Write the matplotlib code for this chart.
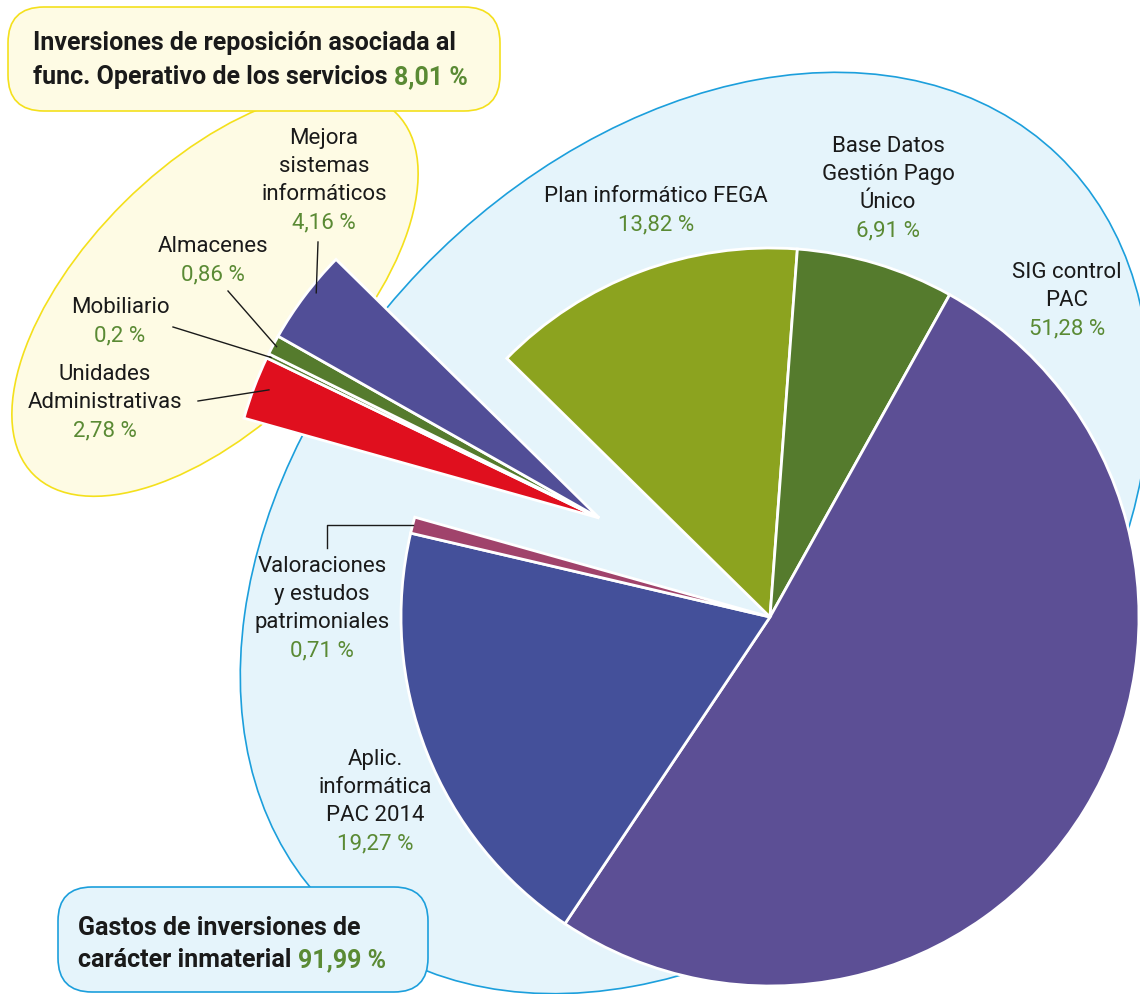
import numpy as np
import matplotlib.pyplot as plt
from matplotlib.patches import Ellipse, FancyBboxPatch

plt.rcParams["font.family"] = ["Roboto", "DejaVu Sans"]

# Distribución de las inversiones (%), en sentido horario desde "Plan informático FEGA"
etiquetas = [
    "Plan informático FEGA",
    "Base Datos\nGestión Pago\nÚnico",
    "SIG control\nPAC",
    "Aplic.\ninformática\nPAC 2014",
    "Valoraciones\ny estudos\npatrimoniales",
    "Unidades\nAdministrativas",
    "Mobiliario",
    "Almacenes",
    "Mejora\nsistemas\ninformáticos",
]
porcentajes = [13.82, 6.91, 51.28, 19.27, 0.71, 2.78, 0.2, 0.86, 4.16]
colores = ["#8ca31f", "#557b2d", "#5c4f95", "#44509a", "#a0436b",
           "#e00f1e", "#557b2d", "#557b2d", "#514e97"]
# True = inversiones de reposición (porción separada)
reposicion = [False, False, False, False, False, True, True, True, True]

total_reposicion = 8.01
total_inmaterial = 91.99

NEGRO = "#1a1a1a"
VERDE = "#5a8a34"
FS_ETIQ = 16
FS_CAJA = 18


def fmt(v):
    return ("%g" % v).replace(".", ",") + " %"


fig = plt.figure(figsize=(11.4, 9.95), dpi=100)
ax = fig.add_axes([0, 0, 1, 1])
H = 995  # alto en píxeles, para pasar coordenadas de arriba-abajo

# fondos elípticos de cada grupo
ax.add_patch(Ellipse((695, H - 534), 1048, 760, angle=46.2, facecolor="#e5f4fb",
                     edgecolor="#1c9fdc", lw=1.2, zorder=0))
ax.add_patch(Ellipse((215, H - 295), 512, 258, angle=44.8, facecolor="#fefbe4",
                     edgecolor="#f4e01c", lw=1.2, zorder=0))

R = 369
centro = (770, H - 618)
cunas, _ = ax.pie(porcentajes, colors=colores, startangle=135.5, counterclock=False,
                  radius=R, center=centro,
                  wedgeprops=dict(edgecolor="white", linewidth=2))

# separar el grupo de reposición como un bloque
separacion = 0.535
grupo = [w for w, r in zip(cunas, reposicion) if r]
t1 = min(w.theta1 for w in grupo)
t2 = max(w.theta2 for w in grupo)
medio = np.deg2rad((t1 + t2) / 2)
nuevo_centro = (centro[0] + separacion * R * np.cos(medio),
                centro[1] + separacion * R * np.sin(medio))
for w in grupo:
    w.set_center(nuevo_centro)


def ancla(i, t=0.5, r=1.0):
    w = cunas[i]
    a = np.deg2rad(w.theta1 + t * (w.theta2 - w.theta1))
    cx, cy = w.center
    return cx + r * w.r * np.cos(a), cy + r * w.r * np.sin(a)


# etiquetas: centro x y primera línea (px desde arriba)
posiciones = [(656, 197), (888, 147), (1067, 273), (375, 760), (322, 567),
              (105, 375), (120, 308), (213, 247), (324, 139)]
paso = 28
for nombre, valor, (x, y) in zip(etiquetas, porcentajes, posiciones):
    lineas = nombre.split("\n")
    for k, linea in enumerate(lineas):
        ax.text(x, H - (y + k * paso), linea, ha="center", va="center",
                fontsize=FS_ETIQ, color=NEGRO, zorder=3)
    ax.text(x, H - (y + len(lineas) * paso), fmt(valor), ha="center", va="center",
            fontsize=FS_ETIQ, color=VERDE, zorder=3)

# líneas guía
guias = {8: ((318, 243), 0.4, 0.98), 7: ((228, 292), 0.5, 0.99),
         6: ((173, 328), 0.5, 0.99), 5: ((198, 402), 0.45, 0.96)}
for i, ((x0, y0), t, r) in guias.items():
    ax_, ay_ = ancla(i, t, r)
    ax.plot([x0, ax_], [H - y0, ay_], color=NEGRO, lw=1.0, zorder=2)
vx, vy = ancla(4)
ax.plot([327, 327, vx], [H - 549, vy, vy], color=NEGRO, lw=1.0, zorder=2)

# recuadros de totales
ax.add_patch(FancyBboxPatch((8, H - 112), 492, 104,
                            boxstyle="round,pad=0,rounding_size=36",
                            facecolor="#fefbe4", edgecolor="#f4e01c", lw=1.2, zorder=4))
ax.text(33, H - 43, "Inversiones de reposición asociada al", fontsize=FS_CAJA,
        fontweight="bold", color=NEGRO, va="center", zorder=5)
t = ax.text(33, H - 77, "func. Operativo de los servicios ", fontsize=FS_CAJA,
            fontweight="bold", color=NEGRO, va="center", zorder=5)
ax.annotate(fmt(total_reposicion), xy=(1, 0), xycoords=t, va="bottom", ha="left",
            fontsize=FS_CAJA, fontweight="bold", color=VERDE, zorder=5)

ax.add_patch(FancyBboxPatch((58, 2), 370, 105,
                            boxstyle="round,pad=0,rounding_size=34",
                            facecolor="#e5f4fb", edgecolor="#1c9fdc", lw=1.2, zorder=4))
ax.text(78, H - 928, "Gastos de inversiones de", fontsize=FS_CAJA,
        fontweight="bold", color=NEGRO, va="center", zorder=5)
t = ax.text(78, H - 960, "carácter inmaterial ", fontsize=FS_CAJA,
            fontweight="bold", color=NEGRO, va="center", zorder=5)
ax.annotate(fmt(total_inmaterial), xy=(1, 0), xycoords=t, va="bottom", ha="left",
            fontsize=FS_CAJA, fontweight="bold", color=VERDE, zorder=5)

ax.set_xlim(0, 1140)
ax.set_ylim(0, H)
ax.set_aspect("equal")
ax.axis("off")

fig.savefig("out.png", dpi=100)
